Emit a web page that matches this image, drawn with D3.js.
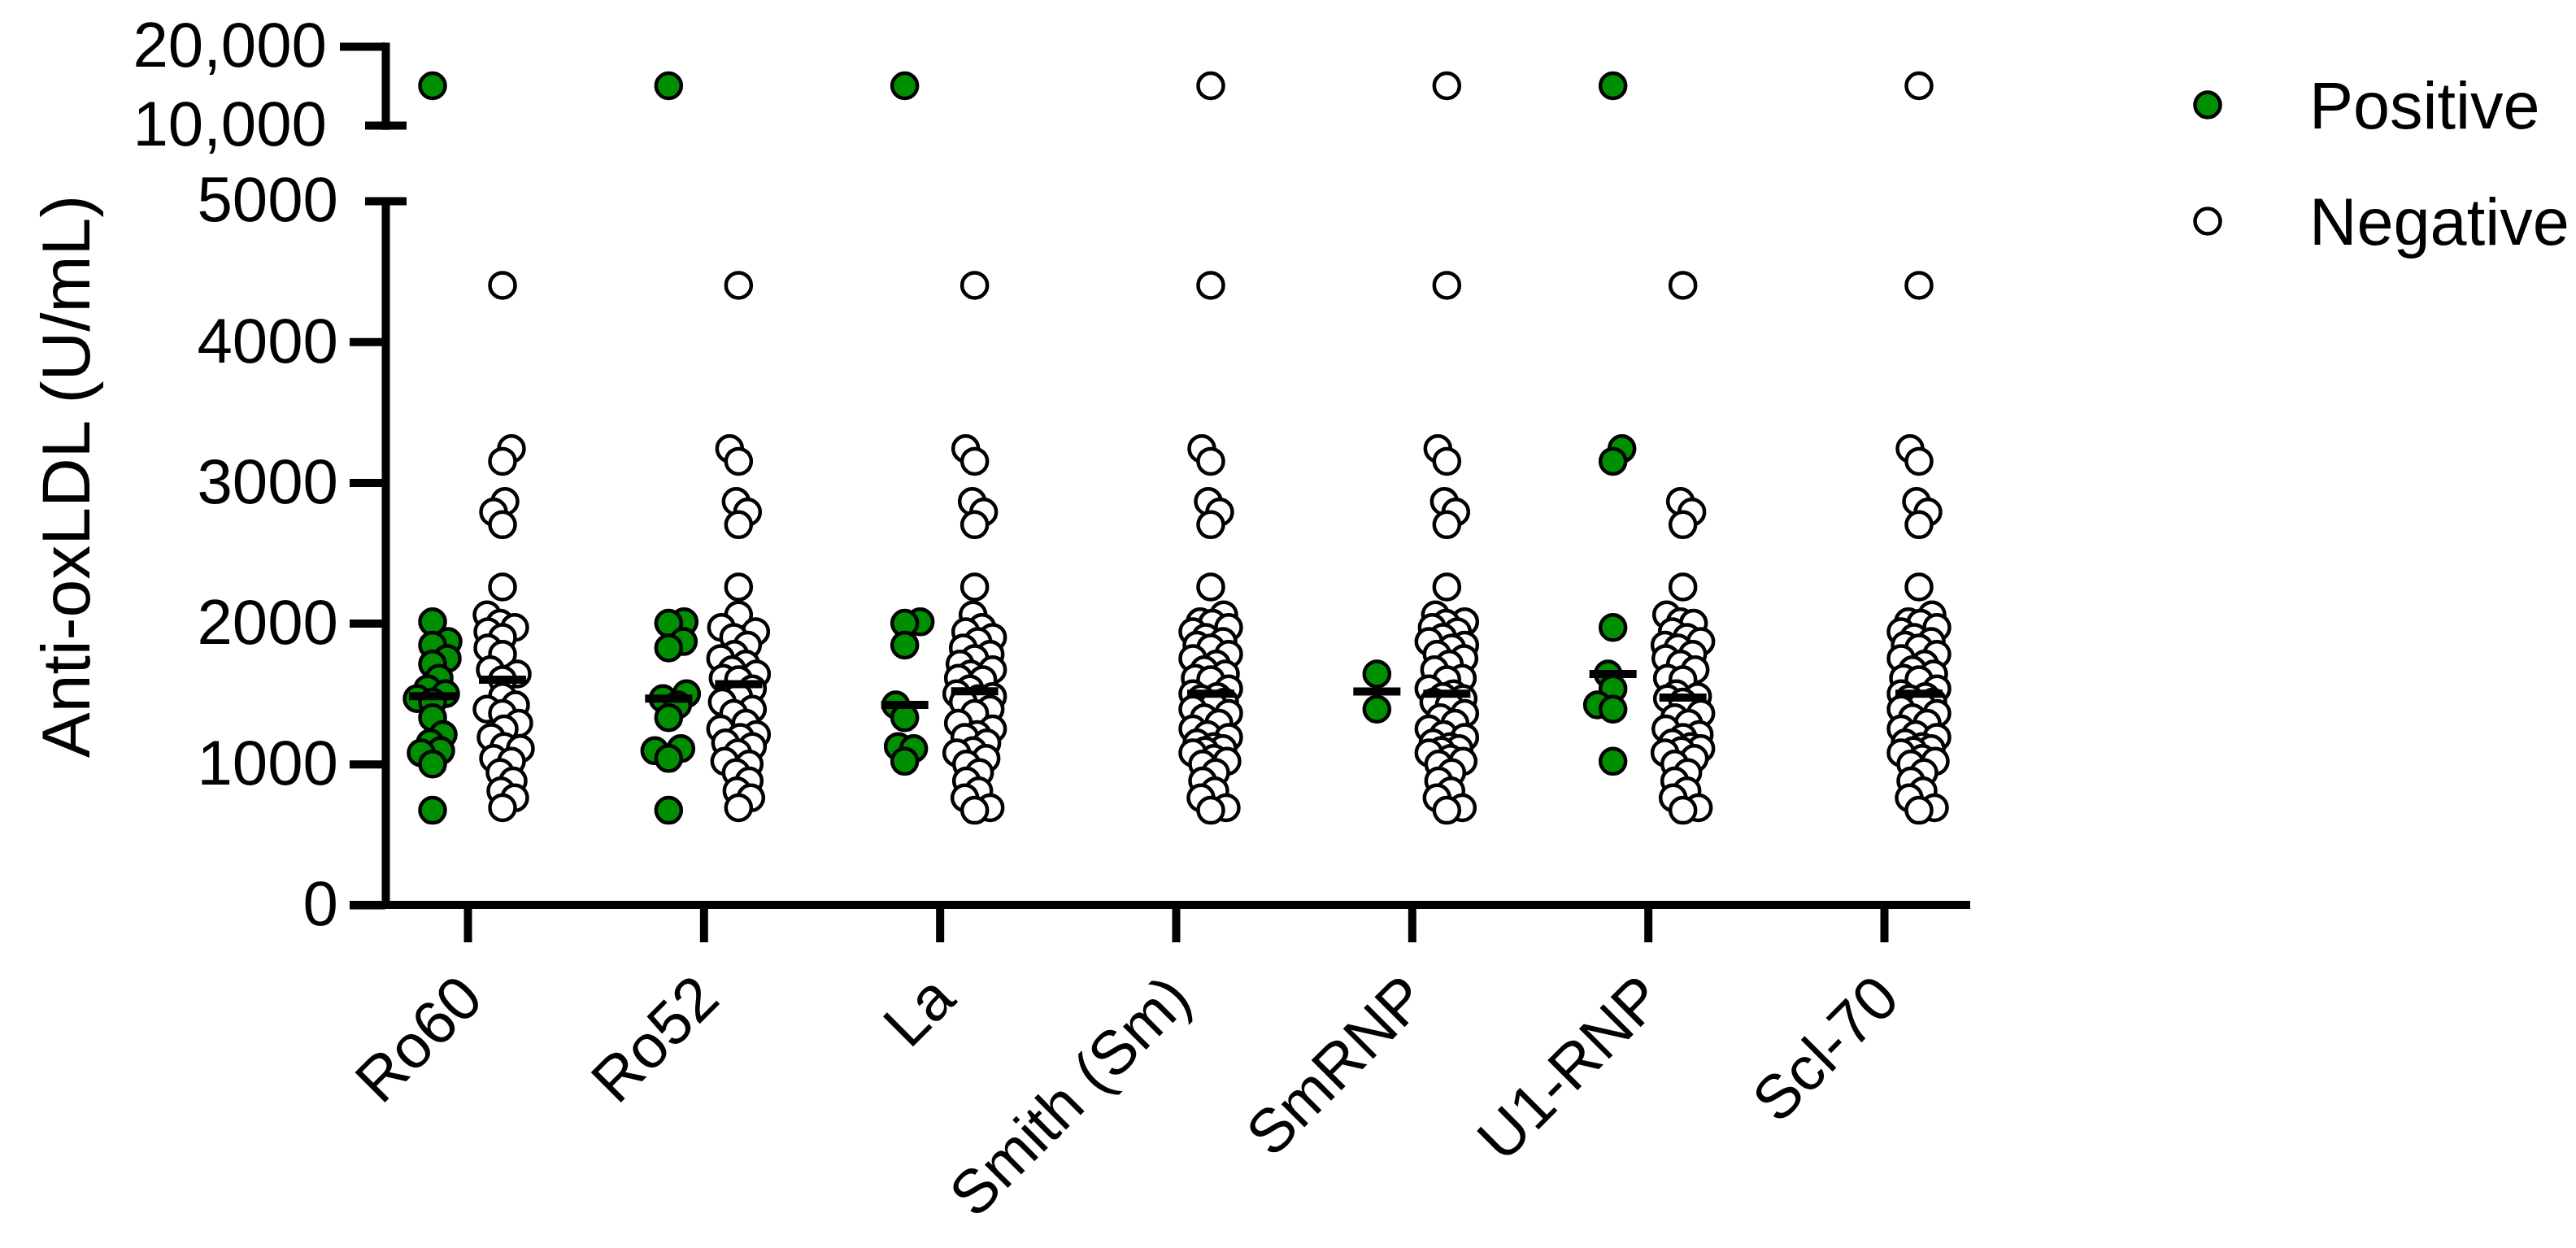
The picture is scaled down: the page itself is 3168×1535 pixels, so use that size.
<!DOCTYPE html>
<html>
<head>
<meta charset="utf-8">
<script src="https://cdn.jsdelivr.net/npm/d3@7"></script>
<style>
  html, body { margin: 0; padding: 0; background: #ffffff; }
  svg { display: block; }
</style>
</head>
<body>
<svg id="chart" width="3168" height="1535"></svg>
<script>
// ---------------- DATA ----------------
const categories = ["Ro60", "Ro52", "La", "Smith (Sm)", "SmRNP", "U1-RNP", "Scl-70"];
const seriesNames = ["Positive", "Negative"];
const lowerTicks = [0, 1000, 2000, 3000, 4000, 5000];
const upperTicks = [10000, 20000];
const yAxisTitle = "Anti-oxLDL (U/mL)";

const ro60Positive = [15000, 2010, 1870, 1845, 1750, 1710, 1610, 1535, 1500, 1465, 1440, 1330, 1210, 1150, 1095, 1080, 1000, 672];
const ro60Negative = [4400, 3240, 3150, 2865, 2790, 2700, 2258, 2060, 2000, 1970, 1940, 1900, 1825, 1780, 1670, 1640, 1600, 1480, 1420, 1390, 1360, 1290, 1250, 1190, 1125, 1110, 1040, 1020, 940, 880, 810, 760, 690];

const ro52Positive = [15000, 2010, 2000, 1870, 1825, 1500, 1465, 1420, 1330, 1110, 1095, 1040, 672];
const ro52Negative = [4400, 3240, 3150, 2865, 2790, 2700, 2258, 2060, 1970, 1940, 1900, 1845, 1780, 1750, 1710, 1670, 1640, 1610, 1600, 1535, 1480, 1440, 1390, 1360, 1290, 1250, 1210, 1190, 1150, 1125, 1080, 1020, 1000, 940, 880, 810, 760, 690];

const laPositive = [15000, 2010, 2000, 1845, 1420, 1330, 1125, 1110, 1020];
const laNegative = [4400, 3240, 3150, 2865, 2790, 2700, 2258, 2060, 1970, 1940, 1900, 1870, 1825, 1780, 1750, 1710, 1670, 1640, 1610, 1600, 1535, 1500, 1480, 1465, 1440, 1390, 1360, 1290, 1250, 1210, 1190, 1150, 1095, 1080, 1040, 1000, 940, 880, 810, 760, 690, 672];

const smPositive = [];
const smNegative = [15000, 4400, 3240, 3150, 2865, 2790, 2700, 2258, 2060, 2010, 2000, 1970, 1940, 1900, 1870, 1845, 1825, 1780, 1750, 1710, 1670, 1640, 1610, 1600, 1535, 1500, 1480, 1465, 1440, 1420, 1390, 1360, 1330, 1290, 1250, 1210, 1190, 1150, 1125, 1110, 1095, 1080, 1040, 1020, 1000, 940, 880, 810, 760, 690, 672];

const smrnpPositive = [1640, 1390];
const smrnpNegative = [15000, 4400, 3240, 3150, 2865, 2790, 2700, 2258, 2060, 2010, 2000, 1970, 1940, 1900, 1870, 1845, 1825, 1780, 1750, 1710, 1670, 1610, 1600, 1535, 1500, 1480, 1465, 1440, 1420, 1360, 1330, 1290, 1250, 1210, 1190, 1150, 1125, 1110, 1095, 1080, 1040, 1020, 1000, 940, 880, 810, 760, 690, 672];

const u1rnpPositive = [15000, 3240, 3150, 1970, 1640, 1535, 1420, 1390, 1020];
const u1rnpNegative = [4400, 2865, 2790, 2700, 2258, 2060, 2010, 2000, 1940, 1900, 1870, 1845, 1825, 1780, 1750, 1710, 1670, 1610, 1600, 1500, 1480, 1465, 1440, 1360, 1330, 1290, 1250, 1210, 1190, 1150, 1125, 1110, 1095, 1080, 1040, 1000, 940, 880, 810, 760, 690, 672];

const scl70Positive = [];
const scl70Negative = [15000, 4400, 3240, 3150, 2865, 2790, 2700, 2258, 2060, 2010, 2000, 1970, 1940, 1900, 1870, 1845, 1825, 1780, 1750, 1710, 1670, 1640, 1610, 1600, 1535, 1500, 1480, 1465, 1440, 1420, 1390, 1360, 1330, 1290, 1250, 1210, 1190, 1150, 1125, 1110, 1095, 1080, 1040, 1020, 1000, 940, 880, 810, 760, 690, 672];

const positiveByCategory = [ro60Positive, ro52Positive, laPositive, smPositive, smrnpPositive, u1rnpPositive, scl70Positive];
const negativeByCategory = [ro60Negative, ro52Negative, laNegative, smNegative, smrnpNegative, u1rnpNegative, scl70Negative];

// ---------------- STYLE / LAYOUT ----------------
const W = 3168, H = 1535;
const FONT = '"Liberation Sans", Arial, Helvetica, sans-serif';
const GREEN = "#008f00";
const seriesFill = { Positive: GREEN, Negative: "#ffffff" };
const seriesOffset = { Positive: -43, Negative: 43 };
const AXIS_X = 474;
const LW = 10;          // axis line width
const R = 15.5, SW = 4.5; // marker
const MEDIAN_HALF = 29;

const svg = d3.select("#chart");
svg.append("rect").attr("width", W).attr("height", H).attr("fill", "#ffffff");

const x = d3.scalePoint().domain(categories).range([575, 2317]);
const yLower = d3.scaleLinear().domain([0, 5000]).range([1113, 247]);
const yUpper = d3.scaleLinear().domain([10000, 20000]).range([154, 57]);
const yPos = v => (v >= 10000 ? yUpper(v) : yLower(v));

// ---------------- AXES ----------------
function styleAxis(g, fontSize) {
  g.attr("font-family", FONT);
  g.selectAll("path.domain").attr("stroke", "#000").attr("stroke-width", LW);
  g.selectAll(".tick line").attr("stroke", "#000").attr("stroke-width", LW);
  g.selectAll(".tick text").attr("fill", "#000").attr("font-size", fontSize).attr("font-family", FONT);
}

const gLower = svg.append("g").attr("transform", `translate(${AXIS_X},0)`)
  .call(d3.axisLeft(yLower).tickValues(lowerTicks).tickFormat(d3.format("d"))
    .tickSize(44).tickSizeOuter(0).tickPadding(14));
styleAxis(gLower, 78);
gLower.selectAll(".tick").filter(d => d === 5000).select("line").attr("x1", -25).attr("x2", 26);

const gUpper = svg.append("g").attr("transform", `translate(${AXIS_X},0)`)
  .call(d3.axisLeft(yUpper).tickValues(upperTicks).tickFormat(d3.format(","))
    .tickSize(56).tickSizeOuter(0).tickPadding(16));
styleAxis(gUpper, 78);
gUpper.select("path.domain").attr("stroke-linecap", "square");
gUpper.selectAll(".tick").filter(d => d === 10000).select("line").attr("x1", -25).attr("x2", 26);

const gx = svg.append("g").attr("transform", `translate(0,${yLower(0)})`)
  .call(d3.axisBottom(x).tickSize(46).tickSizeOuter(0));
gx.select("path.domain").remove();
gx.insert("line", ":first-child")
  .attr("x1", AXIS_X - 44).attr("x2", 2423).attr("y1", 0).attr("y2", 0)
  .attr("stroke", "#000").attr("stroke-width", LW);
styleAxis(gx, 76);
gx.selectAll(".tick text")
  .attr("y", 0).attr("dy", 0).attr("x", 0)
  .attr("text-anchor", "end")
  .attr("transform", "translate(22,119) rotate(-45)");

// y title
svg.append("text")
  .attr("transform", "translate(110,586) rotate(-90)")
  .attr("text-anchor", "middle")
  .attr("font-family", FONT).attr("font-size", 84).attr("fill", "#000")
  .text(yAxisTitle);

// ---------------- POINTS ----------------
function swarm(values, cx) {
  const pts = values.map(v => ({ v, y: yPos(v), dx: 0 }));
  const order = pts.slice().sort((a, b) => b.y - a.y);
  const placed = [];
  const D = 19, MAXOFF = 22;
  order.forEach((p, idx) => {
    let chosen = null, bestK = 0, bestD = -1;
    for (let s = 0; s <= MAXOFF && chosen === null; s++) {
      const cands = s === 0 ? [0] : (idx % 2 ? [s, -s] : [-s, s]);
      for (const k of cands) {
        let md = Infinity;
        for (const q of placed) {
          const d = Math.hypot(q.dx - k, q.y - p.y);
          if (d < md) md = d;
        }
        if (md >= D) { chosen = k; break; }
        if (md > bestD) { bestD = md; bestK = k; }
      }
    }
    p.dx = chosen !== null ? chosen : bestK;
    placed.push(p);
  });
  return pts.map(p => ({ v: p.v, x: cx + p.dx, y: p.y }));
}

const plot = svg.append("g");
categories.forEach((cat, i) => {
  [["Positive", positiveByCategory[i]], ["Negative", negativeByCategory[i]]].forEach(([name, vals]) => {
    if (!vals.length) return;
    const cx = x(cat) + seriesOffset[name];
    const pts = swarm(vals, cx);
    plot.append("g").selectAll("circle").data(pts).join("circle")
      .attr("cx", d => d.x).attr("cy", d => d.y).attr("r", R)
      .attr("fill", seriesFill[name]).attr("stroke", "#000").attr("stroke-width", SW);
    const med = d3.median(vals);
    plot.append("line")
      .attr("x1", cx - MEDIAN_HALF).attr("x2", cx + MEDIAN_HALF)
      .attr("y1", yPos(med)).attr("y2", yPos(med))
      .attr("stroke", "#000").attr("stroke-width", LW);
  });
});

// ---------------- LEGEND ----------------
const legend = svg.append("g").attr("transform", "translate(2715,129)");
seriesNames.forEach((name, i) => {
  const g = legend.append("g").attr("transform", `translate(0,${i * 143})`);
  g.append("circle").attr("r", R).attr("fill", seriesFill[name])
    .attr("stroke", "#000").attr("stroke-width", SW);
  g.append("text").attr("x", 125).attr("y", 29)
    .attr("font-family", FONT).attr("font-size", 81).attr("fill", "#000")
    .text(name);
});
</script>
</body>
</html>
